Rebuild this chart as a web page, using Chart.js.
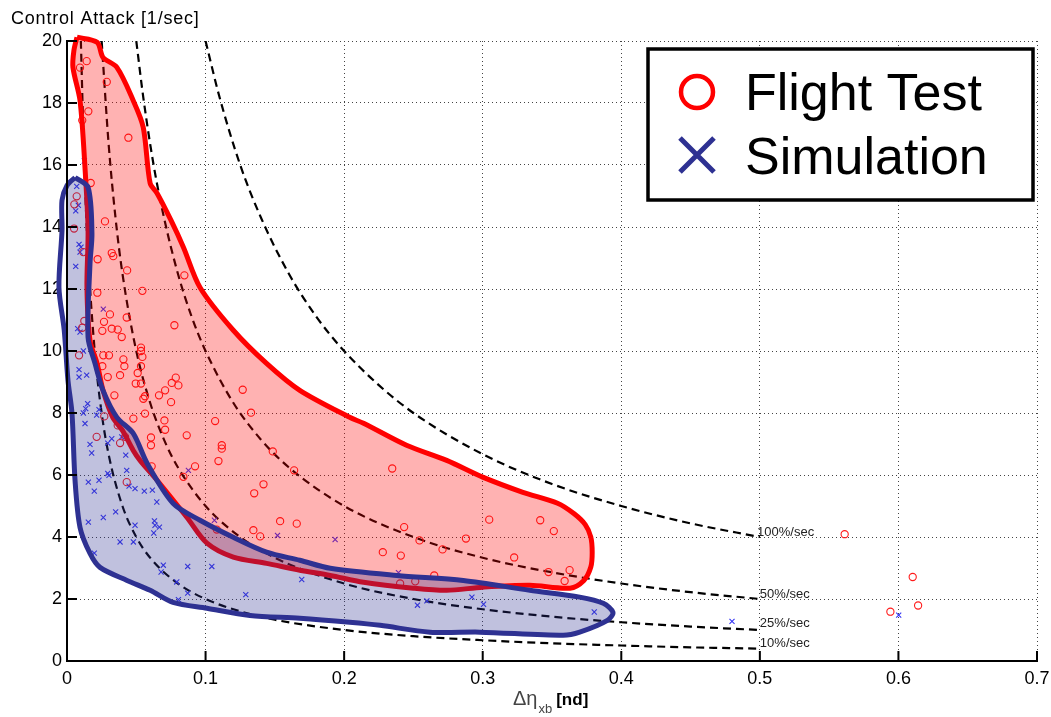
<!DOCTYPE html>
<html><head><meta charset="utf-8">
<script src="https://cdn.jsdelivr.net/npm/chart.js@4.4.1/dist/chart.umd.min.js"></script>
<style>html,body{margin:0;padding:0;background:#fff;}canvas{display:block;}</style>
</head><body>
<canvas id="c" width="1051" height="717"></canvas>
<script>
// ---- axis ticks ----
const xTicks = [0, 0.1, 0.2, 0.3, 0.4, 0.5, 0.6, 0.7];
const xTickLabels = ['0', '0.1', '0.2', '0.3', '0.4', '0.5', '0.6', '0.7'];
const yTicks = [0, 2, 4, 6, 8, 10, 12, 14, 16, 18, 20];
const yTickLabels = ['0', '2', '4', '6', '8', '10', '12', '14', '16', '18', '20'];

// ---- series: [x, y] ----
const flightTest = [
  [0.0142,19.35],[0.0094,19.14],[0.0287,18.68],[0.0154,17.73],[0.011,17.44],[0.0443,16.88],[0.0171,15.42],[0.0070,14.99],[0.0053,14.73],[0.0274,14.18],[0.0051,13.95],
  [0.0118,13.19],[0.0323,13.16],[0.0334,13.06],[0.0221,12.96],[0.0847,12.44],[0.0434,12.6],[0.0219,11.88],[0.0544,11.94],
  [0.0431,11.08],[0.0775,10.83],[0.0310,11.18],[0.0267,10.94],[0.0125,10.97],[0.011,10.75],[0.0255,10.65],[0.0323,10.72],[0.0366,10.69],[0.0395,10.45],
  [0.0534,10.11],[0.0534,10.0],[0.0544,9.81],[0.0262,9.86],[0.0303,9.86],[0.0087,9.86],[0.0407,9.73],[0.0255,9.51],[0.0414,9.51],[0.0534,9.51],
  [0.0510,9.29],[0.0383,9.22],[0.0294,9.16],[0.0496,8.95],[0.0534,8.95],[0.0756,8.97],[0.0785,9.14],[0.0804,8.89],[0.0708,8.73],[0.0664,8.57],
  [0.0563,8.54],[0.0342,8.57],[0.0751,8.35],[0.0551,8.46],[0.0563,7.98],[0.0479,7.82],[0.0703,7.76],[0.0708,7.46],[0.0214,7.23],[0.0864,7.28],
  [0.0366,7.60],[0.0419,7.23],[0.0606,7.21],[0.0606,6.96],[0.0269,7.89],
  [0.0383,7.03],[0.1117,6.96],[0.1117,6.85],[0.1093,6.45],[0.0924,6.28],[0.0611,6.28],[0.0840,5.94],[0.0431,5.77],[0.1351,5.41],[0.1081,4.24],[0.1345,4.22],
  [0.1268,8.75],[0.1328,8.01],[0.1069,7.74],[0.1485,6.76],[0.1639,6.15],[0.2347,6.21],[0.1418,5.70],[0.1394,4.02],[0.1538,4.51],[0.1658,4.43],
  [0.2433,4.32],[0.2544,3.89],[0.2710,3.60],[0.2279,3.51],[0.2409,3.40],
  [0.2879,3.95],[0.3047,4.56],[0.3415,4.54],[0.3513,4.19],[0.3227,3.34],[0.2650,2.76],[0.2404,2.50],[0.2513,2.57],[0.3475,2.87],[0.3627,2.93],[0.3591,2.58],
  [0.5612,4.09],[0.6103,2.71],[0.6142,1.79],[0.5942,1.59]
];
const simulation = [
  [0.0070,15.31],[0.0082,14.70],[0.0063,14.52],[0.0125,16.13],[0.0087,13.44],[0.0101,13.35],[0.0094,13.19],[0.0063,12.73],[0.0262,11.35],
  [0.0077,10.72],[0.0094,10.61],[0.0118,10.0],[0.0087,9.40],[0.0087,9.16],[0.0142,9.22],[0.0149,8.30],[0.0135,8.14],[0.0118,8.00],[0.0130,7.66],
  [0.0214,7.93],[0.0231,8.11],[0.0166,6.99],[0.0323,7.17],[0.0294,7.03],[0.0178,6.71],[0.0395,7.23],[0.0424,6.64],[0.0431,6.15],[0.0294,6.05],
  [0.0303,5.99],[0.0154,5.77],[0.0231,5.83],[0.0197,5.48],[0.0448,5.64],[0.0491,5.56],[0.0558,5.48],[0.0616,5.51],[0.0648,5.13],[0.0154,4.48],
  [0.0262,4.63],[0.0351,4.81],[0.0491,4.38],[0.0631,4.52],[0.0635,4.38],[0.0667,4.32],[0.0626,4.13],[0.0383,3.84],[0.0479,3.84],[0.0197,3.48],
  [0.0695,3.09],[0.0679,2.87],[0.0871,3.05],[0.1045,3.05],[0.0792,2.55],[0.0871,2.19],[0.0804,1.98],[0.1290,2.14],[0.1064,4.54],[0.0876,6.15],
  [0.1519,4.05],[0.1935,3.92],[0.2392,2.85],[0.2529,1.80],[0.2597,1.94],[0.2922,2.06],[0.3006,1.83],[0.3805,1.58],[0.1694,2.63],[0.4799,1.28],[0.6002,1.48]
];

// ---- envelopes (closed outlines) ----
const flightEnvelope = [
  [0.0072,20.12],[0.0217,19.96],[0.026,19.47],[0.036,19.15],[0.0477,18.09],[0.055,17.22],[0.060,15.41],[0.065,15.09],[0.075,14.22],[0.084,13.35],
  [0.096,12.05],[0.120,10.67],[0.144,9.60],[0.168,8.73],[0.204,7.86],[0.214,7.67],[0.245,6.96],[0.274,6.47],[0.300,5.93],[0.329,5.44],[0.354,5.09],
  [0.366,4.75],[0.374,4.4],[0.378,4.0],[0.379,3.5],[0.378,3.03],[0.373,2.60],[0.363,2.35],
  [0.334,2.44],[0.300,2.38],[0.274,2.28],[0.250,2.35],[0.214,2.54],[0.190,2.76],[0.168,2.93],[0.144,3.15],[0.120,3.35],[0.101,3.80],[0.0866,4.63],
  [0.065,5.83],[0.0527,6.47],[0.0477,6.8],[0.040,7.44],[0.033,7.86],[0.026,8.73],[0.0217,9.6],[0.0166,10.34],[0.0144,12.05],[0.0152,13.89],
  [0.013,15.9],[0.0094,18.08],[0.0043,19.15],[0.005,19.7],[0.0072,20.12]
];
const simulationEnvelope = [
  [0.0058,15.6],[0.0152,15.28],[0.018,13.8],[0.0166,12.83],[0.0152,10.44],[0.0202,9.6],[0.026,8.73],[0.036,7.86],[0.0477,7.35],[0.0578,6.38],
  [0.0765,5.09],[0.096,4.54],[0.120,3.99],[0.144,3.51],[0.168,3.25],[0.190,2.99],[0.238,2.76],[0.286,2.60],[0.334,2.28],[0.370,2.06],[0.387,1.86],
  [0.394,1.57],[0.390,1.31],[0.370,0.93],[0.358,0.83],[0.298,0.93],[0.262,0.93],[0.226,1.15],[0.204,1.25],[0.168,1.38],[0.132,1.47],[0.101,1.70],
  [0.0765,1.89],[0.060,2.28],[0.0433,2.60],[0.0238,3.02],[0.0166,3.47],[0.0094,4.31],[0.0058,5.83],[0.0036,7.99],[0.0007,9.05],[-0.002,10.67],
  [-0.0058,12.05],[-0.0036,13.89],[-0.0036,14.86],[0.0,15.34],[0.0058,15.6]
];

// ---- constant-rate reference curves ----
const curve100 = [[0.1,20],[0.11,18.2],[0.125,16],[0.14,14.3],[0.16,12.5],[0.18,11.1],[0.2,10],[0.225,8.9],[0.25,8],[0.3,6.67],[0.35,5.71],[0.4,5],[0.45,4.44],[0.5,4]];
const curve50 = [[0.05,20],[0.055,18.2],[0.0625,16],[0.07,14.3],[0.08,12.5],[0.09,11.1],[0.1,10],[0.12,8.33],[0.14,7.14],[0.16,6.25],[0.2,5],[0.25,4],[0.3,3.33],[0.35,2.86],[0.4,2.5],[0.45,2.22],[0.5,2]];
const curve25 = [[0.025,20],[0.03,16.7],[0.035,14.3],[0.04,12.5],[0.05,10],[0.06,8.33],[0.07,7.14],[0.08,6.25],[0.1,5],[0.125,4],[0.15,3.33],[0.2,2.5],[0.25,2],[0.3,1.67],[0.35,1.43],[0.4,1.25],[0.45,1.11],[0.5,1]];
const curve10 = [[0.01,20],[0.0125,16],[0.015,13.3],[0.02,10],[0.025,8],[0.03,6.67],[0.04,5],[0.05,4],[0.06,3.33],[0.08,2.5],[0.1,2],[0.125,1.6],[0.15,1.33],[0.2,1],[0.25,0.8],[0.3,0.67],[0.35,0.57],[0.4,0.5],[0.45,0.44],[0.5,0.4]];
const curveLabels = ['100%/sec', '50%/sec', '25%/sec', '10%/sec'];
const curveLabelX = [0.498, 0.5, 0.5, 0.5];
const curveLabelY = [4.15, 2.15, 1.2, 0.57];

const pts = a => a.map(([x, y]) => ({x, y}));
const FONT = '"Liberation Sans", Arial, sans-serif';

function curveDs(arr) {
  return { data: pts(arr), showLine: true, borderColor: '#000', borderWidth: 2.2, borderDash: [8, 5],
    pointRadius: 0, fill: false, cubicInterpolationMode: 'monotone', order: 10 };
}

const overlay = {
  id: 'overlay',
  afterDraw(chart) {
    const {ctx, chartArea: a, scales: {x, y}} = chart;
    ctx.save();
    // axes lines + inward ticks
    ctx.strokeStyle = '#000'; ctx.lineWidth = 2;
    ctx.beginPath();
    ctx.moveTo(a.left, a.top); ctx.lineTo(a.left, a.bottom); ctx.lineTo(a.right, a.bottom);
    xTicks.forEach(v => { const px = x.getPixelForValue(v); ctx.moveTo(px, a.bottom); ctx.lineTo(px, a.bottom - 10); });
    yTicks.forEach(v => { const py = y.getPixelForValue(v); ctx.moveTo(a.left, py); ctx.lineTo(a.left + 10, py); });
    ctx.stroke();
    // curve labels
    ctx.fillStyle = '#222'; ctx.font = '13px ' + FONT; ctx.textBaseline = 'middle'; ctx.textAlign = 'left';
    curveLabels.forEach((t, i) => ctx.fillText(t, x.getPixelForValue(curveLabelX[i]), y.getPixelForValue(curveLabelY[i])));
    // y title
    ctx.fillStyle = '#000'; ctx.textBaseline = 'alphabetic';
    ctx.font = '18px ' + FONT;
    ctx.letterSpacing = '0.8px';
    ctx.fillText('Control Attack [1/sec]', 11, 24);
    ctx.letterSpacing = '0px';
    // x title
    ctx.fillStyle = '#444'; ctx.font = '20px ' + FONT;
    ctx.fillText('\u0394\u03b7', 513, 705);
    const w = ctx.measureText('\u0394\u03b7').width;
    ctx.font = '13px ' + FONT;
    ctx.fillText('xb', 513 + w + 1, 713);
    const w2 = ctx.measureText('xb').width;
    ctx.fillStyle = '#000'; ctx.font = 'bold 17px ' + FONT;
    ctx.fillText('[nd]', 513 + w + w2 + 5, 705);
    // legend
    ctx.fillStyle = '#fff'; ctx.fillRect(648, 49, 385, 151);
    ctx.strokeStyle = '#000'; ctx.lineWidth = 3.5; ctx.strokeRect(648, 49, 385, 151);
    ctx.strokeStyle = '#ff0000'; ctx.lineWidth = 4.5;
    ctx.beginPath(); ctx.arc(697, 92, 16, 0, Math.PI * 2); ctx.stroke();
    ctx.strokeStyle = '#2e3192'; ctx.lineWidth = 5;
    ctx.beginPath(); ctx.moveTo(680, 138); ctx.lineTo(714, 172); ctx.moveTo(714, 138); ctx.lineTo(680, 172); ctx.stroke();
    ctx.fillStyle = '#000'; ctx.font = '52px ' + FONT;
    ctx.fillText(chart.data.datasets[0].label, 745, 110);
    ctx.fillText(chart.data.datasets[1].label, 745, 174);
    ctx.restore();
  }
};

new Chart(document.getElementById('c'), {
  type: 'scatter',
  data: {
    datasets: [
      { label: 'Flight Test', data: pts(flightTest), pointStyle: 'circle', pointRadius: 3.6, borderWidth: 1.1,
        borderColor: '#ff1a1a', backgroundColor: 'rgba(0,0,0,0)', order: 8 },
      { label: 'Simulation', data: pts(simulation), pointStyle: 'crossRot', pointRadius: 3.6, borderWidth: 1.1,
        borderColor: '#3636f5', backgroundColor: 'rgba(0,0,0,0)', order: 9 },
      { label: 'Flight envelope', data: pts(flightEnvelope), showLine: true, fill: 'shape', tension: 0.3,
        backgroundColor: 'rgba(255,0,0,0.3)', borderColor: '#ff0000', borderWidth: 5, borderJoinStyle: 'round',
        pointRadius: 0, clip: 12, order: 2 },
      { label: 'Simulation envelope', data: pts(simulationEnvelope), showLine: true, fill: 'shape', tension: 0.3,
        backgroundColor: 'rgba(46,49,146,0.3)', borderColor: '#2e3192', borderWidth: 5, borderJoinStyle: 'round',
        pointRadius: 0, clip: 12, order: 1 },
      curveDs(curve100), curveDs(curve50), curveDs(curve25), curveDs(curve10)
    ]
  },
  options: {
    responsive: false, animation: false, devicePixelRatio: 1,
    layout: { padding: { top: 41, right: 14, left: 0, bottom: 0 } },
    plugins: { legend: { display: false }, tooltip: { enabled: false } },
    scales: {
      x: {
        type: 'linear', min: 0, max: 0.7,
        afterBuildTicks: s => { s.ticks = xTicks.map(v => ({ value: v })); },
        afterFit: s => { s.height = 56; s.paddingLeft = 0; s.paddingRight = 0; },
        ticks: { callback: (v, i) => xTickLabels[i], font: { family: FONT, size: 18 }, color: '#000', padding: 7, maxRotation: 0, autoSkip: false },
        grid: { color: '#444', lineWidth: 1, drawTicks: false },
        border: { display: true, color: '#000', width: 2, dash: [1, 3] }
      },
      y: {
        type: 'linear', min: 0, max: 20,
        afterBuildTicks: s => { s.ticks = yTicks.map(v => ({ value: v })); },
        afterFit: s => { s.width = 67; s.paddingTop = 0; s.paddingBottom = 0; },
        ticks: { callback: (v, i) => yTickLabels[i], font: { family: FONT, size: 18 }, color: '#000', padding: 5, autoSkip: false },
        grid: { color: '#444', lineWidth: 1, drawTicks: false },
        border: { display: true, color: '#000', width: 2, dash: [1, 3] }
      }
    }
  },
  plugins: [overlay]
});
</script>
</body></html>
